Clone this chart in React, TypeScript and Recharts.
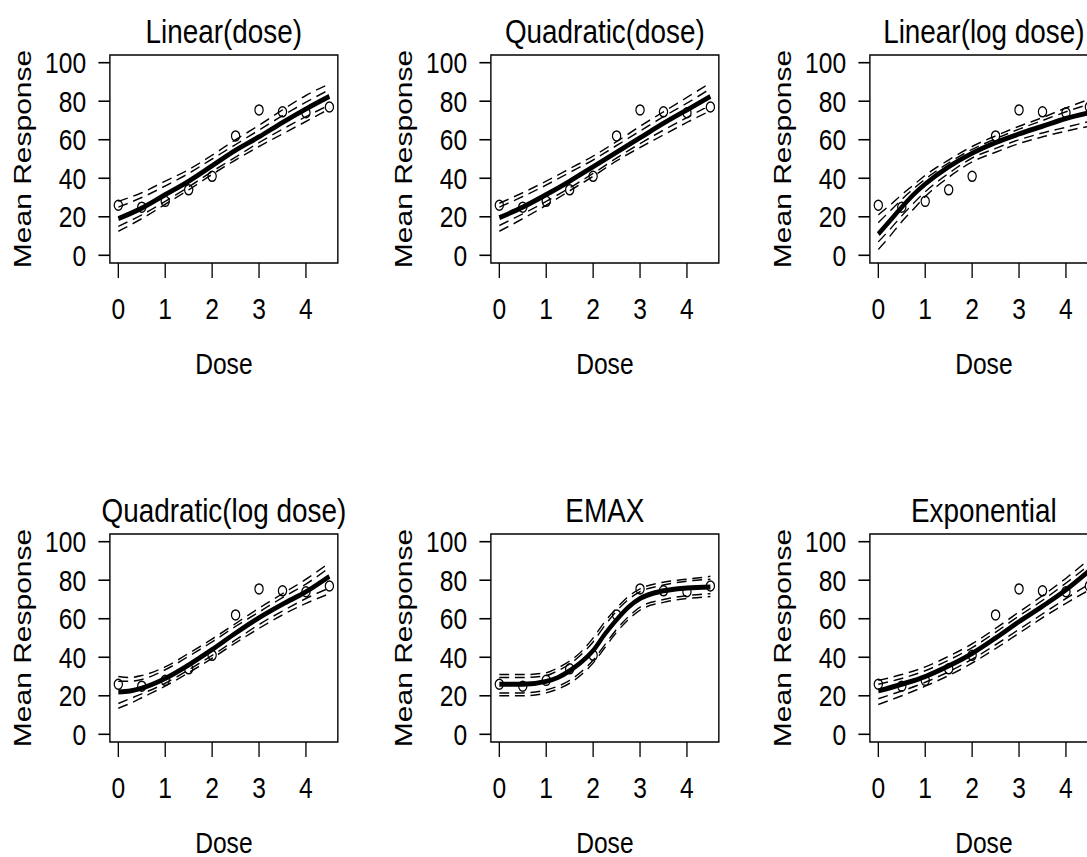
import { ComposedChart, Line, Scatter, XAxis, YAxis, ReferenceArea } from "recharts";

// observed mean response per dose group (same in every panel)
const doses = [0, 0.5, 1, 1.5, 2, 2.5, 3, 3.5, 4, 4.5];
const observed = [26, 25, 28, 34, 41, 62, 75.5, 74.5, 74, 77];

const doseTicks = [0, 1, 2, 3, 4];
const responseTicks = [0, 20, 40, 60, 80, 100];

// Linear(dose)
const linGrid = [0, 0.5, 1, 1.5, 2, 2.5, 3, 3.5, 4, 4.5];
const linMean = [19, 24.5, 31.5, 38.5, 46.5, 54.5, 61.5, 69, 76, 82.5];
const linOuterHi = [28, 32.5, 38.5, 44.5, 52, 60, 67.5, 75.5, 83, 89];
const linInnerHi = [25, 30, 36, 42.5, 50, 57.5, 65, 72.5, 79.5, 86];
const linInnerLo = [15, 21, 28, 35.5, 43.5, 51, 58.5, 65.5, 72, 78];
const linOuterLo = [12.5, 19, 26.5, 34, 42, 49.5, 56.5, 63, 69.5, 76];

// Quadratic(dose)
const quadGrid = [0, 0.5, 1, 1.5, 2, 2.5, 3, 3.5, 4, 4.5];
const quadMean = [19.5, 25, 31.5, 38.5, 46, 53.5, 61, 68.5, 75.5, 82.5];
const quadOuterHi = [27, 32.5, 38.5, 45, 51.5, 59, 67, 74.5, 82, 89.5];
const quadInnerHi = [25, 30.5, 36.5, 43, 49.5, 57, 64.5, 72, 79, 86.5];
const quadInnerLo = [15.5, 21.5, 28, 35, 42.5, 50.5, 58, 65, 71.5, 78];
const quadOuterLo = [12.5, 19, 26, 33.5, 41, 49, 56, 62.5, 69, 75];

// Linear(log dose)
const logLinGrid = [0, 0.25, 0.5, 0.75, 1, 1.5, 2, 2.5, 3, 3.5, 4, 4.5];
const logLinMean = [11, 18, 25, 31.5, 37, 46, 53, 58.5, 63, 67, 71, 74];
const logLinOuterHi = [21, 26, 31.5, 36.5, 41.5, 49.5, 56.5, 62, 67, 71.5, 76.5, 81];
const logLinInnerHi = [17, 23, 29, 34.5, 39.5, 48, 55, 60.5, 65.5, 70, 74.5, 78.5];
const logLinInnerLo = [7, 13.5, 20.5, 27, 33, 42.5, 50.5, 55.5, 60, 63.5, 66.5, 69.5];
const logLinOuterLo = [3, 10, 17.5, 24, 30.5, 40.5, 48.5, 53.5, 58, 61.5, 64.5, 67];

// Quadratic(log dose)
const logQuadGrid = [0, 0.25, 0.5, 1, 1.5, 2, 2.5, 3, 3.5, 4, 4.5];
const logQuadMean = [22, 22.5, 24, 29, 36, 44, 52.5, 60.5, 67.5, 74, 82];
const logQuadOuterHi = [30, 29.5, 30.5, 35, 42, 49.5, 57.5, 65.5, 73, 80.5, 89];
const logQuadInnerHi = [27.5, 27.5, 28.5, 33.5, 40.5, 48, 56, 63.5, 71, 78, 86.5];
const logQuadInnerLo = [16, 18.5, 21, 26.5, 33.5, 41, 49, 57, 64, 70.5, 76];
const logQuadOuterLo = [13.5, 16, 19, 25, 32, 39.5, 47.5, 55, 62, 68, 73];

// EMAX
const emaxGrid = [0, 0.5, 1, 1.25, 1.5, 1.75, 2, 2.25, 2.5, 2.75, 3, 3.5, 4, 4.5];
const emaxMean = [26, 26, 27.5, 29.5, 33, 37.5, 43.5, 52, 59.5, 66, 70.5, 74.5, 76, 76.5];
const emaxOuterHi = [31, 31, 32, 34.5, 38, 43, 50, 58.5, 65.5, 71.5, 75.5, 79, 80.5, 82];
const emaxInnerHi = [29.5, 29.5, 30.5, 33, 36.5, 41.5, 48, 56.5, 64, 70, 74, 77.5, 79.5, 80.5];
const emaxInnerLo = [21.5, 21.5, 23, 25, 28, 32.5, 38.5, 46.5, 54.5, 61, 66, 70, 72, 73];
const emaxOuterLo = [20, 20, 21.5, 23.5, 26.5, 31, 37, 45, 53, 59.5, 64.5, 68.5, 70.5, 71.5];

// Exponential
const expGrid = [0, 0.5, 1, 1.5, 2, 2.5, 3, 3.5, 4, 4.5];
const expMean = [22.5, 26, 30, 35.5, 42, 50, 58.5, 66.5, 75, 85];
const expOuterHi = [28, 31, 35, 40.5, 47, 55, 63.5, 72, 81, 91];
const expInnerHi = [26, 29, 33, 38.5, 45, 53, 61.5, 69.5, 78.5, 88];
const expInnerLo = [18.5, 22.5, 27, 32.5, 39, 46.5, 54.5, 62.5, 70.5, 78];
const expOuterLo = [15.5, 20, 25, 30.5, 37, 44.5, 52.5, 60.5, 68, 75];

const font = "'Liberation Sans', Arial, Helvetica, sans-serif";

const toRows = (grid: number[], mean: number[], oh: number[], ih: number[], il: number[], ol: number[]) =>
  grid.map((dose, i) => ({ dose, mean: mean[i], oh: oh[i], ih: ih[i], il: il[i], ol: ol[i] }));

const points = doses.map((dose, i) => ({ dose, resp: observed[i] }));

const panels = [
  { title: "Linear(dose)", rows: toRows(linGrid, linMean, linOuterHi, linInnerHi, linInnerLo, linOuterLo) },
  { title: "Quadratic(dose)", rows: toRows(quadGrid, quadMean, quadOuterHi, quadInnerHi, quadInnerLo, quadOuterLo) },
  { title: "Linear(log dose)", rows: toRows(logLinGrid, logLinMean, logLinOuterHi, logLinInnerHi, logLinInnerLo, logLinOuterLo) },
  { title: "Quadratic(log dose)", rows: toRows(logQuadGrid, logQuadMean, logQuadOuterHi, logQuadInnerHi, logQuadInnerLo, logQuadOuterLo) },
  { title: "EMAX", rows: toRows(emaxGrid, emaxMean, emaxOuterHi, emaxInnerHi, emaxInnerLo, emaxOuterLo) },
  { title: "Exponential", rows: toRows(expGrid, expMean, expOuterHi, expInnerHi, expInnerLo, expOuterLo) },
];

const colLeft = [0, 381, 760];
const rowTop = [0, 479];

// the reference is squeezed horizontally, so each panel is drawn wide and scaled in x
const squeeze = 0.82;
const dash = "12 7";

function DosePanel({ title, rows }: { title: string; rows: any[] }) {
  return (
    <ComposedChart width={463} height={479} data={rows} margin={{ top: 55, right: 51, bottom: 136, left: 0 }}>
      <XAxis
        dataKey="dose"
        type="number"
        domain={[-0.18, 4.68]}
        ticks={doseTicks}
        interval={0}
        allowDataOverflow
        height={80}
        axisLine={false}
        tickSize={15}
        tickMargin={20}
        tickLine={{ stroke: "#000", strokeWidth: 1.6 }}
        tick={{ fill: "#000", fontSize: 30, fontFamily: font }}
        label={{ value: "Dose", position: "bottom", offset: 10, fill: "#000", fontSize: 30, fontFamily: font }}
      />
      <YAxis
        type="number"
        domain={[-4, 104]}
        ticks={responseTicks}
        interval={0}
        allowDataOverflow
        width={134}
        axisLine={false}
        tickSize={14}
        tickMargin={15}
        tickLine={{ stroke: "#000", strokeWidth: 1.6 }}
        tick={{ fill: "#000", fontSize: 30, fontFamily: font }}
        label={{
          value: "Mean Response",
          angle: -90,
          position: "insideLeft",
          offset: 27,
          fill: "#000",
          fontSize: 30,
          fontFamily: font,
          style: { textAnchor: "middle" },
        }}
      />
      <Scatter
        data={points}
        dataKey="resp"
        isAnimationActive={false}
        shape={(p: any) => <circle cx={p.cx} cy={p.cy} r={5} fill="none" stroke="#000" strokeWidth={1.5} />}
      />
      <Line type="monotone" dataKey="oh" stroke="#000" strokeWidth={1.5} strokeDasharray={dash} dot={false} activeDot={false} isAnimationActive={false} />
      <Line type="monotone" dataKey="ih" stroke="#000" strokeWidth={1.5} strokeDasharray={dash} dot={false} activeDot={false} isAnimationActive={false} />
      <Line type="monotone" dataKey="il" stroke="#000" strokeWidth={1.5} strokeDasharray={dash} dot={false} activeDot={false} isAnimationActive={false} />
      <Line type="monotone" dataKey="ol" stroke="#000" strokeWidth={1.5} strokeDasharray={dash} dot={false} activeDot={false} isAnimationActive={false} />
      <Line type="monotone" dataKey="mean" stroke="#000" strokeWidth={5} dot={false} activeDot={false} isAnimationActive={false} />
      <ReferenceArea
        x1={-0.18}
        x2={4.68}
        y1={-4}
        y2={104}
        fill="none"
        stroke="#000"
        strokeWidth={1.7}
        ifOverflow="visible"
        label={{ value: title, position: "top", offset: 12, fill: "#000", fontSize: 34, fontFamily: font }}
      />
    </ComposedChart>
  );
}

export default function App() {
  return (
    <div style={{ position: "absolute", left: 0, top: 0, width: 1087, height: 857, overflow: "hidden", background: "#fff" }}>
      {panels.map((p, i) => (
        <div key={p.title} style={{ position: "absolute", left: colLeft[i % 3], top: rowTop[Math.floor(i / 3)] }}>
          <div style={{ transform: `scaleX(${squeeze})`, transformOrigin: "0 0" }}>
            <DosePanel title={p.title} rows={p.rows} />
          </div>
        </div>
      ))}
    </div>
  );
}
